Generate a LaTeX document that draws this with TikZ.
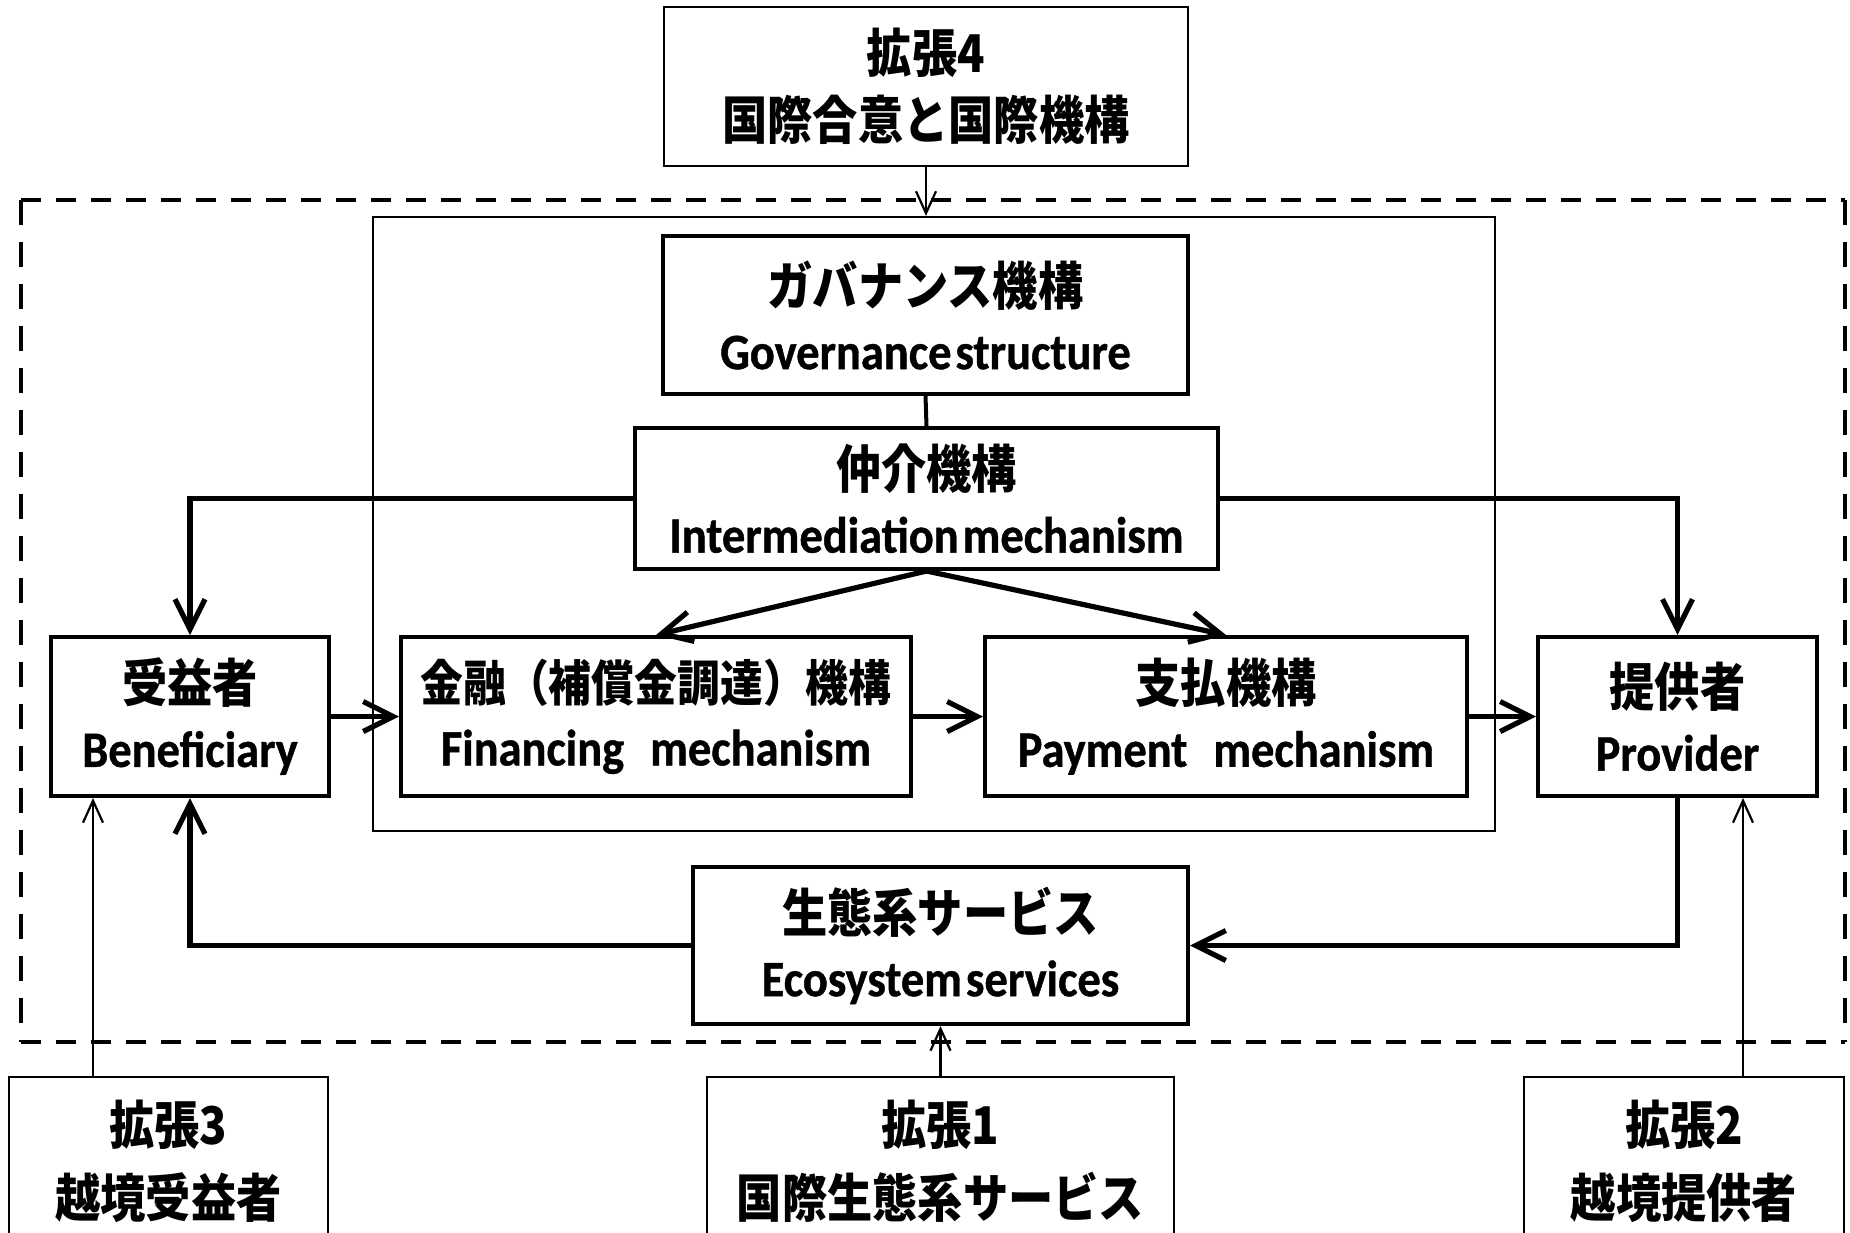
\documentclass[tikz,border=0pt]{standalone}
\usepackage{fontspec}
\usetikzlibrary{arrows.meta}
\newfontfamily\jpf{Noto Sans CJK JP}[FakeStretch=0.87]
\newfontfamily\enf{Carlito}[FakeStretch=0.91, FakeBold=0.8]
\newcommand\J[1]{{\jpf\fontsize{26}{32}\selectfont #1}}
\newcommand\JF[1]{{\jpf\fontsize{24.6}{32}\selectfont #1}}
\newcommand\E[1]{{\enf\fontsize{25.5}{32}\selectfont #1}}
\begin{document}
\begin{tikzpicture}[x=0.5pt,y=-0.5pt,
  box/.style={draw, line width=2pt, inner sep=0pt, align=center,
    font=\bfseries\fontsize{22.5}{32}\selectfont},
  extbox/.style={draw, line width=1.1pt, inner sep=0pt, align=center,
    font=\bfseries\fontsize{25}{36.5}\selectfont},
  frame/.style={draw, line width=1.1pt, inner sep=0pt},
  bigarrow/.style={line width=2.6pt, -{Straight Barb[length=15pt,width=15pt]}},
  smallarrow/.style={line width=1.1pt, -{Straight Barb[length=11pt,width=10pt]}},
  link/.style={line width=2pt},
  dashH/.style={line width=2pt, dash pattern=on 10pt off 7.5pt},
  dashV/.style={line width=2pt, dash pattern=on 12.5pt off 8.5pt},
]
\useasboundingbox (0,0) rectangle (1850,1232);
\clip (0,0) rectangle (1850,1232);
\fill[white] (0,0) rectangle (1850,1232);

% dashed boundary
\draw[dashH] (21,200) -- (1845,200);
\draw[dashH] (21,1042) -- (1845,1042);
\draw[dashV] (21,200) -- (21,1042);
\draw[dashV] (1845,200) -- (1845,1042);

% inner frame
\node[frame, minimum width=561pt, minimum height=307pt] (inner) at (934,524) {};

% top extension
\node[extbox, font=\bfseries\fontsize{25}{33.5}\selectfont, minimum width=262pt, minimum height=79.5pt] (ext4) at (926,86.5)
  {\J{拡張4}\\\J{国際合意と国際機構}};

\node[box, minimum width=262.5pt, minimum height=79pt] (gov) at (925.5,315)
  {\J{ガバナンス機構}\\\E{Governance\hspace{2pt}structure}};
\node[box, minimum width=291.5pt, minimum height=70.5pt] (intermed) at (926.5,498.5)
  {\J{仲介機構}\\\E{Intermediation\hspace{2pt}mechanism}};

\node[box, minimum width=139pt, minimum height=79.5pt] (benef) at (190,716.5)
  {\J{受益者}\\\E{Beneficiary}};
\node[box, minimum width=255pt, minimum height=79.5pt] (fin) at (656,716.5)
  {\JF{金融（補償金調達）機構}\\\E{Financing\hspace{13pt}mechanism}};
\node[box, minimum width=241pt, minimum height=79.5pt] (pay) at (1226,716.5)
  {\J{支払機構}\\\E{Payment\hspace{13pt}mechanism}};
\node[box, minimum width=139.5pt, minimum height=79.5pt] (prov) at (1677.5,716.5)
  {\J{提供者}\\\E{Provider}};

\node[box, minimum width=247.5pt, minimum height=78.5pt] (eco) at (940.5,945.5)
  {\J{生態系サービス}\\\E{Ecosystem\hspace{2pt}services}};

% bottom extensions (cut by page edge)
\node[extbox, minimum width=159.5pt, minimum height=84pt] (ext3) at (168.5,1161)
  {\J{拡張3}\\\J{越境受益者}};
\node[extbox, minimum width=233.5pt, minimum height=84pt] (ext1) at (940.5,1161)
  {\J{拡張1}\\\J{国際生態系サービス}};
\node[extbox, minimum width=160pt, minimum height=84pt] (ext2) at (1684,1161)
  {\J{拡張2}\\\J{越境提供者}};

\coordinate (e3) at (93,1077);
\coordinate (e2) at (1743,1077);

% connectors
\draw[smallarrow] (ext4.south) -- (ext4.south |- inner.north);
\draw[link] (gov.south) -- (intermed.north);
\draw[bigarrow] (intermed.west) -| (benef.north);
\draw[bigarrow] (intermed.east) -| (prov.north);
\draw[bigarrow] (intermed.south) -- (fin.north);
\draw[bigarrow] (intermed.south) -- (pay.north);
\draw[bigarrow] (benef.east) -- (fin.west);
\draw[bigarrow] (fin.east) -- (pay.west);
\draw[bigarrow] (pay.east) -- (prov.west);
\draw[bigarrow] (prov.south) |- (eco.east);
\draw[bigarrow] (eco.west) -| (benef.south);
\draw[smallarrow] (e3) -- (e3 |- benef.south);
\draw[smallarrow] (ext1.north) -- (eco.south);
\draw[smallarrow] (e2) -- (e2 |- prov.south);
\end{tikzpicture}
\end{document}
